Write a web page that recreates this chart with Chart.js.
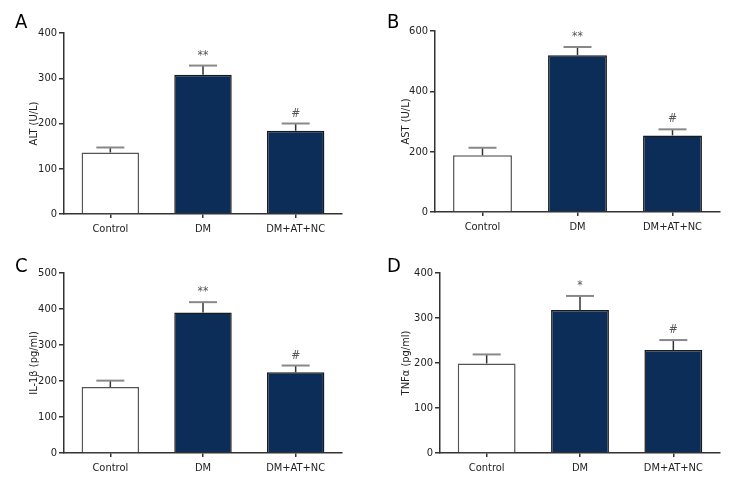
<!DOCTYPE html>
<html>
<head>
<meta charset="utf-8">
<script src="https://cdn.jsdelivr.net/npm/chart.js@4.4.0/dist/chart.umd.min.js"></script>
<style>
  body { margin: 0; background: #fff; }
  #wrap { position: relative; width: 744px; height: 504px; }
  .panel { position: absolute; width: 372px; height: 252px; }
</style>
</head>
<body>
<div id="wrap">
  <div class="panel" style="left:0;top:0"><canvas id="cA" width="372" height="252"></canvas></div>
  <div class="panel" style="left:372px;top:0"><canvas id="cB" width="372" height="252"></canvas></div>
  <div class="panel" style="left:0;top:252px"><canvas id="cC" width="372" height="252"></canvas></div>
  <div class="panel" style="left:372px;top:252px"><canvas id="cD" width="372" height="252"></canvas></div>
</div>
<script>
const groups = ['Control', 'DM', 'DM+AT+NC'];

// valores
const altMean = [136, 308, 184];
const altErr  = [11, 20, 16];
const astMean = [188, 520, 254];
const astErr  = [25, 27, 20];
const il1Mean = [183, 390, 224];
const il1Err  = [18, 29, 19];
const tnfMean = [199, 318, 229];
const tnfErr  = [20, 31, 22];

const altMarks = ['', '**', '#'];
const astMarks = ['', '**', '#'];
const il1Marks = ['', '**', '#'];
const tnfMarks = ['', '*', '#'];

const FONT = '"DejaVu Sans", sans-serif';
const NAVY = '#0b2d58';
// fuente condensada (font-stretch dentro del shorthand)
const tickFont = { family: FONT, size: 11, weight: 'condensed' };

// barras de error + asteriscos
const errorBars = {
  id: 'errorBars',
  afterDatasetsDraw(chart, args, opts) {
    const ctx = chart.ctx;
    const meta = chart.getDatasetMeta(0);
    const y = chart.scales.y;
    meta.data.forEach((bar, i) => {
      const top = y.getPixelForValue(opts.means[i] + opts.errors[i]);
      const x = bar.x;
      ctx.save();
      ctx.strokeStyle = '#333';
      ctx.lineWidth = 1.5;
      ctx.beginPath();
      ctx.moveTo(x, bar.y);
      ctx.lineTo(x, top);
      ctx.stroke();
      ctx.strokeStyle = '#888';
      ctx.lineWidth = 2;
      ctx.beginPath();
      ctx.moveTo(x - 14, top);
      ctx.lineTo(x + 14, top);
      ctx.stroke();
      if (opts.marks[i]) {
        ctx.fillStyle = '#555';
        ctx.font = 'condensed 12px ' + FONT;
        ctx.textAlign = 'center';
        ctx.textBaseline = 'bottom';
        ctx.fillText(opts.marks[i], x, top - 4);
      }
      ctx.restore();
    });
    // letra del panel
    ctx.save();
    ctx.fillStyle = '#000';
    ctx.font = 'condensed 20px ' + FONT;
    ctx.textAlign = 'left';
    ctx.textBaseline = 'top';
    ctx.fillText(opts.letter, opts.letterX, opts.letterY);
    ctx.restore();
  }
};

function makePanel(id, letter, letterY, title, means, errors, marks, max, step, box) {
  const ctx = document.getElementById(id).getContext('2d');
  return new Chart(ctx, {
    type: 'bar',
    data: {
      labels: groups,
      datasets: [{
        data: means,
        backgroundColor: ['#ffffff', NAVY, NAVY],
        borderColor: ['#555555', '#1a1a1a', '#1a1a1a'],
        borderWidth: 1.5,
        categoryPercentage: 0.62,
        barPercentage: 1.0
      }]
    },
    options: {
      responsive: false,
      animation: false,
      events: [],
      layout: { padding: { top: box.top, right: 372 - box.right, left: 0, bottom: 0 } },
      plugins: {
        legend: { display: false },
        tooltip: { enabled: false },
        errorBars: { means: means, errors: errors, marks: marks, letter: letter, letterX: 15, letterY: letterY }
      },
      scales: {
        x: {
          offset: true,
          grid: { display: true, drawOnChartArea: false, drawTicks: true, tickLength: 4, offset: false, color: '#333', lineWidth: 1.5 },
          border: { display: true, color: '#333', width: 1.5 },
          ticks: { color: '#222', font: tickFont, padding: 5 },
          afterFit(scale) { scale.height = 252 - box.bottom; }
        },
        y: {
          min: 0,
          max: max,
          grid: { display: true, drawOnChartArea: false, drawTicks: true, tickLength: 5, color: '#333', lineWidth: 1.5 },
          border: { display: true, color: '#333', width: 1.5 },
          ticks: { stepSize: step, color: '#222', font: tickFont, padding: 2 },
          title: { display: true, text: title, color: '#222', font: tickFont, padding: { top: 28, bottom: 0 } },
          afterFit(scale) { scale.width = box.left; }
        }
      }
    },
    plugins: [errorBars]
  });
}

window.addEventListener('DOMContentLoaded', () => {
  makePanel('cA', 'A', 13, 'ALT (U/L)', altMean, altErr, altMarks, 400, 100, { left: 64, right: 342, top: 33, bottom: 214 });
  makePanel('cB', 'B', 13, 'AST (U/L)', astMean, astErr, astMarks, 600, 200, { left: 63, right: 348, top: 31, bottom: 212 });
  makePanel('cC', 'C', 5, 'IL-1β (pg/ml)', il1Mean, il1Err, il1Marks, 500, 100, { left: 64, right: 342, top: 21, bottom: 453 - 252 });
  makePanel('cD', 'D', 5, 'TNFα (pg/ml)', tnfMean, tnfErr, tnfMarks, 400, 100, { left: 68, right: 348, top: 21, bottom: 453 - 252 });
});
</script>
</body>
</html>
